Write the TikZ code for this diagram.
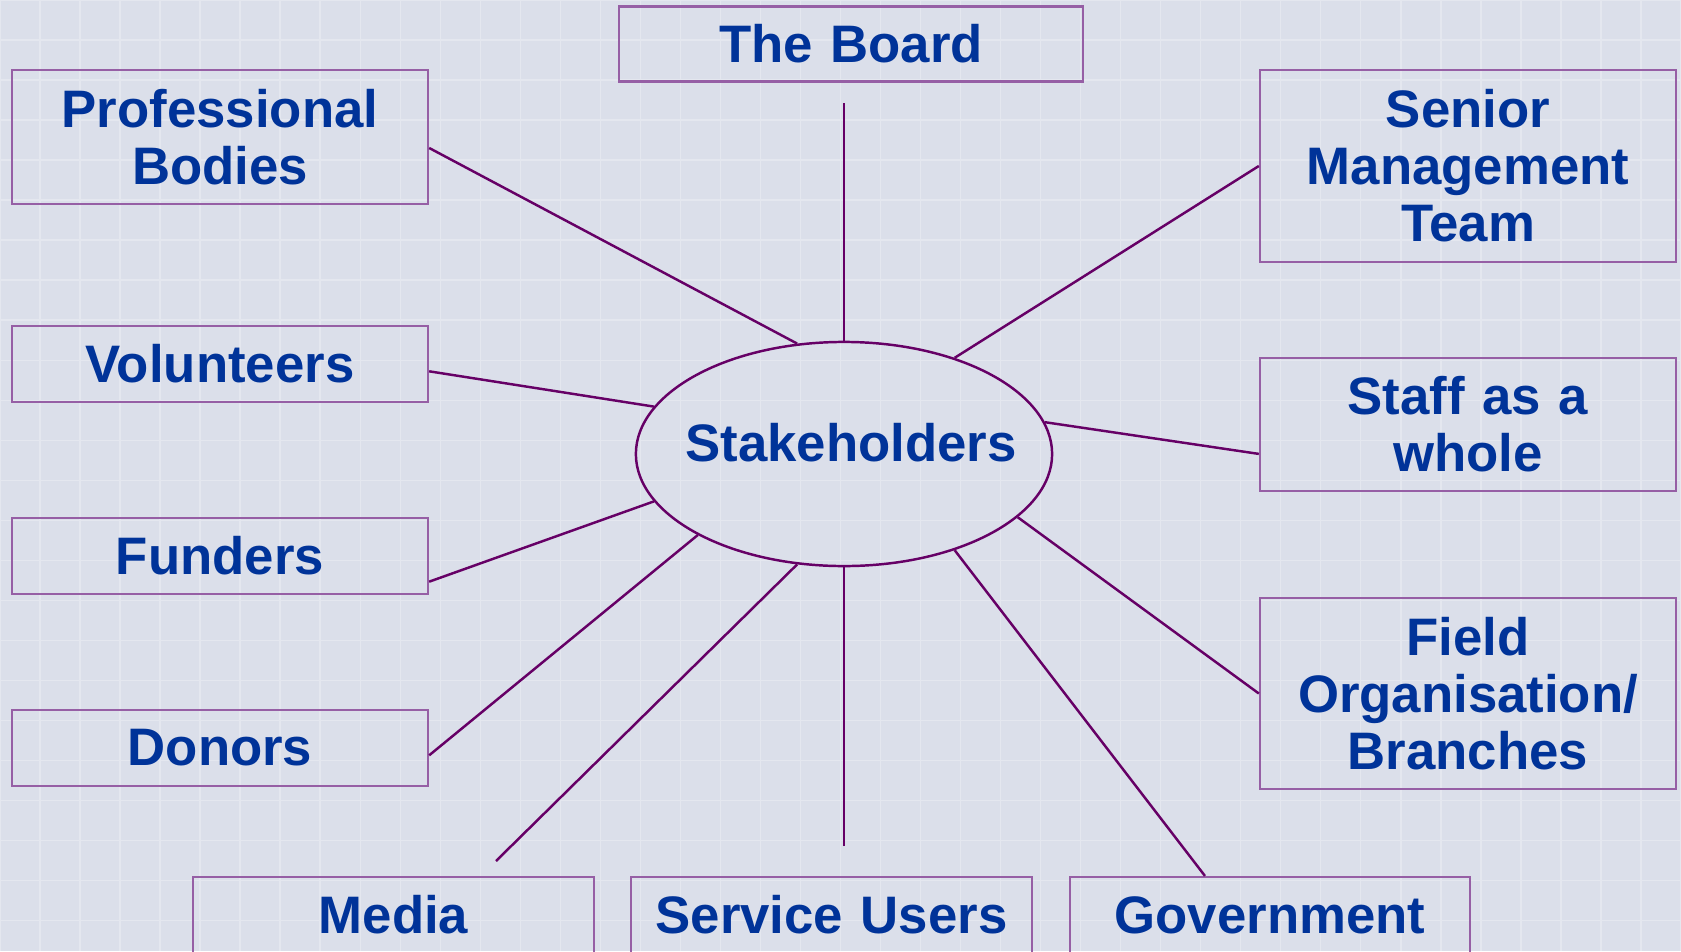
\documentclass[tikz,border=0pt]{standalone}
\usepackage{fontspec}
\setmainfont{Liberation Sans}
\usetikzlibrary{shapes.geometric}
\definecolor{ink}{RGB}{0,51,153}
\definecolor{plum}{RGB}{102,0,102}
\definecolor{frame}{RGB}{150,95,165}
\definecolor{paper}{RGB}{219,223,234}

\tikzset{
  party/.style={draw=frame, line width=0.6pt, minimum width=4.16cm,
    text width=4cm, align=center, inner sep=0pt},
  tie/.style={draw=plum, line width=0.7pt},
}

\begin{document}
\begin{tikzpicture}[x=0.01cm, y=-0.01cm, text=ink,
  font=\fontsize{15}{16.2}\selectfont\bfseries]
% backdrop
\useasboundingbox (0,0) rectangle (1681,951);
\clip (0,0) rectangle (1681,951);
\fill[paper] (0,0) rectangle (1681,951);
\draw[white, opacity=0.25, step=0.4cm] (0,0) grid (1681,951);

% boxes round the hub
\node[party, minimum width=4.63cm, minimum height=0.75cm] (board) at (851,44) {The Board};
\node[party, minimum height=1.34cm] (prof) at (220,137) {Professional\\Bodies};
\foreach \n/\y/\t in {vol/364/Volunteers, fund/556/Funders, donor/748/Donors}
  \node[party, minimum height=0.76cm] (\n) at (220,\y) {\t};
\node[party, minimum height=1.92cm] (senior) at (1468,166) {Senior\\Management\\Team};
\node[party, minimum height=1.33cm] (staff) at (1468,424.5) {Staff as a\\whole};
\node[party, minimum height=1.91cm] (field) at (1468,693.5) {Field\\Organisation/\\Branches};
\foreach \n/\x/\t in {media/393.5/Media, users/831.5/Service Users, gov/1270/Government}
  \node[party, minimum width=4cm, minimum height=0.76cm] (\n) at (\x,915) {\t};

% the hub
\node[ellipse, draw=plum, line width=0.7pt, minimum width=4.16cm,
  minimum height=2.24cm, inner sep=0pt] (hub) at (844,454) {};
\node (hubtext) at (851,443) {Stakeholders};

% spokes
\coordinate (boardfoot) at (844,103);
\coordinate (mediatop) at (496,861);
\coordinate (userstop) at (844,846);
\draw[tie] (prof.-3.6) -- (hub.113);
\draw[tie] (boardfoot) -- (hub.90);
\draw[tie] (senior.west) -- (hub.41);
\draw[tie] (vol.-2.5) -- (hub.166);
\draw[tie] (staff.188) -- (hub.9);
\draw[tie] (fund.-7) -- (hub.194);
\draw[tie] (field.west) -- (hub.-20);
\draw[tie] (donor.-2.5) -- (hub.209);
\draw[tie] (mediatop) -- (hub.247);
\draw[tie] (userstop) -- (hub.270);
\draw[tie] (gov.149) -- (hub.-41);
\end{tikzpicture}
\end{document}
